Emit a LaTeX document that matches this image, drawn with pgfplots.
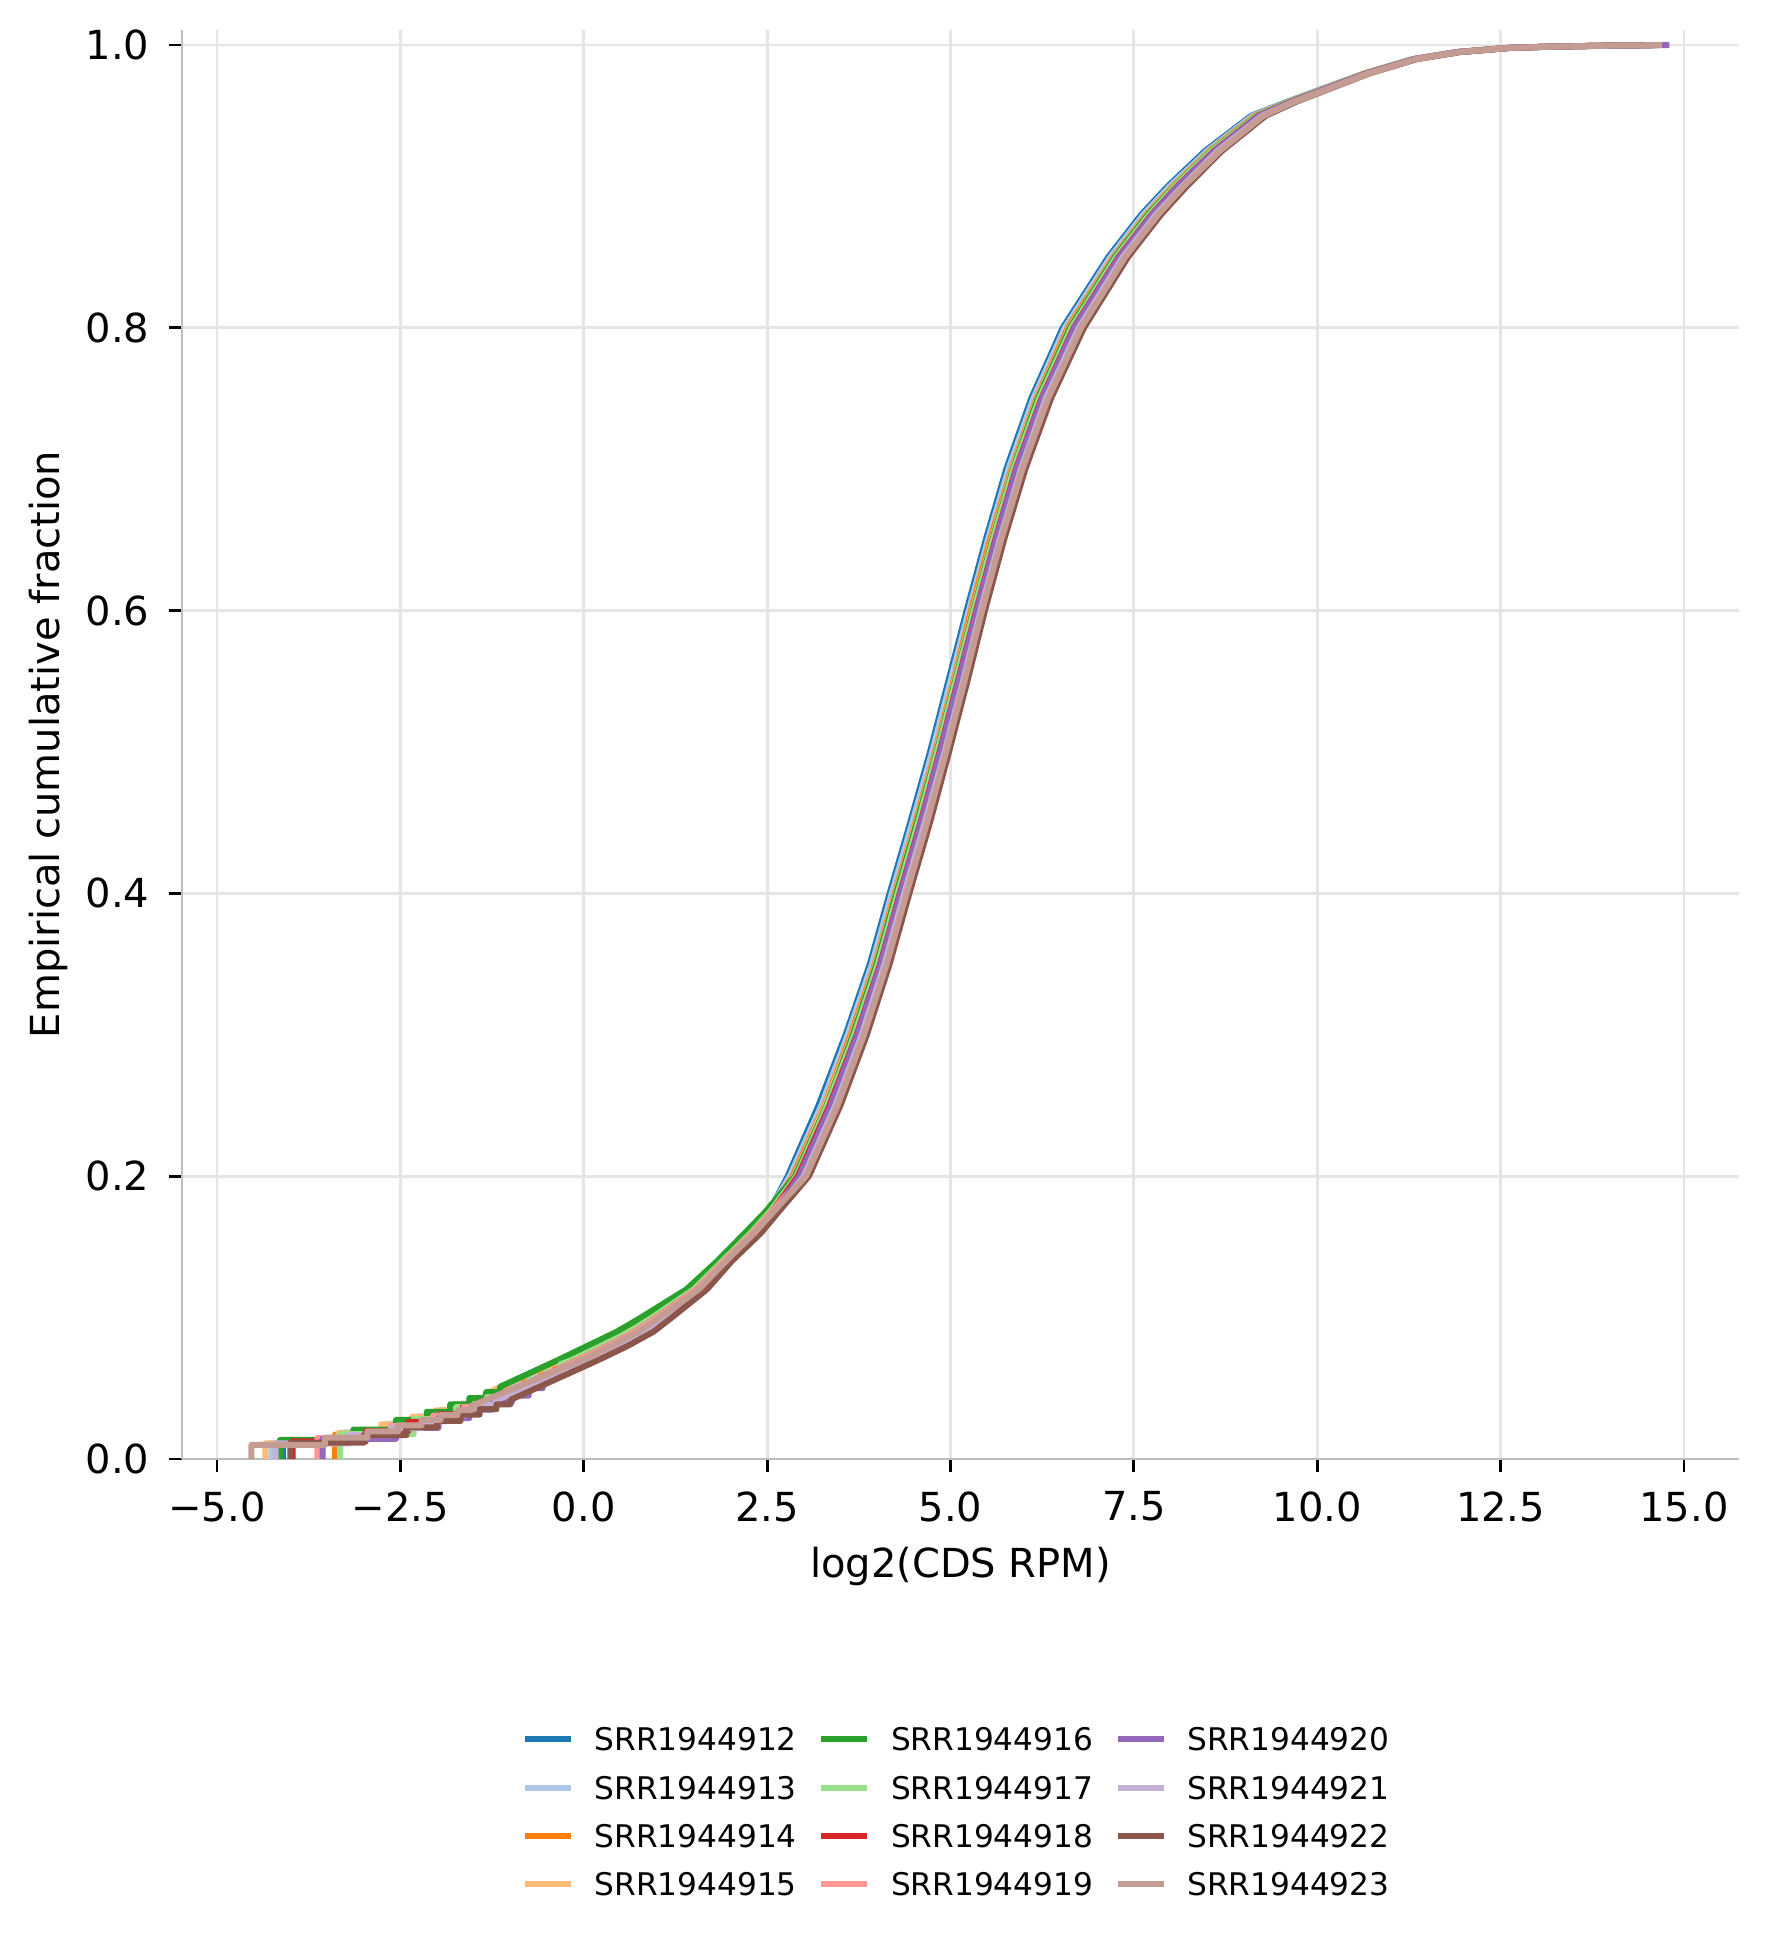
\documentclass[border=0pt]{standalone}
\usepackage{fontspec}
\setmainfont{DejaVu Sans}
\usepackage{pgfplots}
\usepackage{pgfplotstable}
\pgfplotsset{compat=1.18}

\definecolor{c12}{HTML}{1F77B4}
\definecolor{c13}{HTML}{AEC7E8}
\definecolor{c14}{HTML}{FF7F0E}
\definecolor{c15}{HTML}{FFBB78}
\definecolor{c16}{HTML}{2CA02C}
\definecolor{c17}{HTML}{98DF8A}
\definecolor{c18}{HTML}{D62728}
\definecolor{c19}{HTML}{FF9896}
\definecolor{c20}{HTML}{9467BD}
\definecolor{c21}{HTML}{C5B0D5}
\definecolor{c22}{HTML}{8C564B}
\definecolor{c23}{HTML}{C49C94}
\definecolor{gridc}{HTML}{E5E5E5}
\definecolor{spinec}{HTML}{BEBEBE}

% ECDF above the low-count staircase: log2(CDS RPM) per sample at common fractions
\pgfplotstableread{
y     s12   s13   s14   s15   s16   s17   s18   s19   s20   s21   s22   s23
0.07  -0.21 -0.24 -0.19 -0.30 -0.35 -0.16 -0.08 -0.08 0.09  0.06  0.20  -0.02
0.08  0.19  0.16  0.22  0.11  0.05  0.24  0.33  0.33  0.49  0.46  0.60  0.38
0.09  0.58  0.55  0.60  0.50  0.45  0.63  0.70  0.70  0.85  0.83  0.95  0.75
0.10  0.89  0.86  0.91  0.82  0.78  0.93  0.99  0.99  1.12  1.10  1.20  1.03
0.12  1.47  1.46  1.48  1.43  1.40  1.50  1.54  1.54  1.62  1.61  1.68  1.57
0.14  1.87  1.86  1.88  1.84  1.82  1.89  1.92  1.92  1.98  1.97  2.02  1.94
0.16  2.26  2.24  2.27  2.22  2.20  2.28  2.31  2.31  2.38  2.37  2.42  2.33
0.175 2.53  2.52  2.53  2.50  2.48  2.54  2.57  2.57  2.62  2.62  2.66  2.59
0.20  2.78  2.81  2.85  2.87  2.88  2.90  2.92  2.97  2.94  3.00  3.07  3.03
0.25  3.20  3.24  3.28  3.29  3.31  3.32  3.35  3.40  3.37  3.43  3.50  3.46
0.30  3.57  3.60  3.64  3.66  3.67  3.69  3.72  3.76  3.73  3.79  3.86  3.82
0.35  3.90  3.93  3.97  3.98  3.99  4.01  4.04  4.08  4.05  4.10  4.17  4.13
0.40  4.17  4.20  4.24  4.25  4.26  4.28  4.31  4.35  4.32  4.37  4.44  4.40
0.45  4.45  4.48  4.52  4.53  4.54  4.56  4.59  4.63  4.60  4.65  4.72  4.68
0.50  4.72  4.75  4.79  4.80  4.81  4.82  4.85  4.89  4.86  4.92  4.98  4.94
0.55  4.97  5.00  5.04  5.05  5.06  5.07  5.10  5.14  5.11  5.17  5.23  5.19
0.60  5.22  5.25  5.28  5.30  5.31  5.32  5.35  5.38  5.36  5.41  5.47  5.43
0.65  5.48  5.51  5.54  5.56  5.57  5.58  5.61  5.64  5.62  5.67  5.73  5.69
0.70  5.76  5.79  5.83  5.84  5.85  5.86  5.89  5.93  5.90  5.96  6.02  5.98
0.75  6.10  6.13  6.17  6.18  6.19  6.21  6.24  6.28  6.25  6.30  6.37  6.33
0.80  6.53  6.56  6.60  6.62  6.63  6.65  6.68  6.72  6.69  6.75  6.82  6.78
0.85  7.15  7.18  7.22  7.23  7.24  7.26  7.29  7.33  7.30  7.35  7.42  7.38
0.88  7.60  7.63  7.67  7.68  7.69  7.71  7.74  7.78  7.75  7.80  7.87  7.83
0.90  7.96  7.99  8.03  8.04  8.05  8.06  8.09  8.13  8.10  8.16  8.22  8.18
0.925 8.47  8.50  8.53  8.54  8.55  8.56  8.59  8.62  8.60  8.64  8.70  8.67
0.95  9.10  9.12  9.15  9.16  9.17  9.18  9.20  9.23  9.21  9.25  9.30  9.27
0.96  9.60  9.61  9.63  9.64  9.64  9.65  9.66  9.68  9.67  9.69  9.72  9.70
0.97  10.12 10.13 10.15 10.15 10.16 10.16 10.17 10.19 10.18 10.20 10.22 10.21
0.98  10.65 10.66 10.67 10.67 10.67 10.68 10.68 10.70 10.69 10.70 10.72 10.71
0.99  11.30 11.31 11.32 11.32 11.32 11.32 11.33 11.34 11.33 11.35 11.36 11.35
0.995 11.90 11.90 11.91 11.92 11.92 11.92 11.92 11.93 11.93 11.94 11.95 11.94
0.998 12.60 12.61 12.61 12.62 12.62 12.62 12.63 12.63 12.63 12.64 12.65 12.64
0.999 13.28 13.30 13.25 13.32 13.30 13.27 13.30 13.33 13.35 13.30 13.32 13.34
1.000 14.60 14.55 14.60 14.50 14.65 14.60 14.60 14.55 14.80 14.60 14.65 14.70
}\ecdf

% low-count staircases (1..8 reads), last row joins the table above
\pgfplotstableread[row sep=\\]{x y\\
-4.10 0\\ -4.10 0.0122\\ -3.10 0.0122\\ -3.10 0.0199\\ -2.52 0.0199\\ -2.52 0.0263\\
-2.10 0.0263\\ -2.10 0.0319\\ -1.78 0.0319\\ -1.78 0.0370\\ -1.52 0.0370\\ -1.52 0.0413\\
-1.29 0.0413\\ -1.29 0.0453\\ -1.10 0.0453\\ -1.10 0.0489\\ -0.21 0.07\\
}\stpA
\pgfplotstableread[row sep=\\]{x y\\
-4.26 0\\ -4.26 0.0114\\ -3.26 0.0114\\ -3.26 0.0188\\ -2.68 0.0188\\ -2.68 0.0248\\
-2.26 0.0248\\ -2.26 0.0301\\ -1.94 0.0301\\ -1.94 0.0348\\ -1.68 0.0348\\ -1.68 0.0391\\
-1.45 0.0391\\ -1.45 0.0429\\ -1.26 0.0429\\ -1.26 0.0465\\ -0.24 0.07\\
}\stpB
\pgfplotstableread[row sep=\\]{x y\\
-3.39 0\\ -3.39 0.0173\\ -2.39 0.0173\\ -2.39 0.0276\\ -1.81 0.0276\\ -1.81 0.0360\\
-1.39 0.0360\\ -1.39 0.0431\\ -1.07 0.0431\\ -1.07 0.0490\\ -0.81 0.0490\\ -0.81 0.0549\\
-0.58 0.0549\\ -0.58 0.0602\\ -0.39 0.0602\\ -0.39 0.0655\\ -0.19 0.07\\
}\stpC
\pgfplotstableread[row sep=\\]{x y\\
-4.34 0\\ -4.34 0.0110\\ -3.34 0.0110\\ -3.34 0.0185\\ -2.76 0.0185\\ -2.76 0.0245\\
-2.34 0.0245\\ -2.34 0.0298\\ -2.02 0.0298\\ -2.02 0.0344\\ -1.76 0.0344\\ -1.76 0.0387\\
-1.53 0.0387\\ -1.53 0.0426\\ -1.34 0.0426\\ -1.34 0.0462\\ -0.30 0.07\\
}\stpD
\pgfplotstableread[row sep=\\]{x y\\
-4.14 0\\ -4.14 0.0135\\ -3.14 0.0135\\ -3.14 0.0208\\ -2.56 0.0208\\ -2.56 0.0276\\
-2.14 0.0276\\ -2.14 0.0334\\ -1.82 0.0334\\ -1.82 0.0386\\ -1.56 0.0386\\ -1.56 0.0431\\
-1.33 0.0431\\ -1.33 0.0473\\ -1.14 0.0473\\ -1.14 0.0511\\ -0.35 0.07\\
}\stpE
\pgfplotstableread[row sep=\\]{x y\\
-3.32 0\\ -3.32 0.0176\\ -2.32 0.0176\\ -2.32 0.0282\\ -1.74 0.0282\\ -1.74 0.0367\\
-1.32 0.0367\\ -1.32 0.0437\\ -1.00 0.0437\\ -1.00 0.0496\\ -0.74 0.0496\\ -0.74 0.0560\\
-0.51 0.0560\\ -0.51 0.0613\\ -0.32 0.0613\\ -0.32 0.0670\\ -0.16 0.07\\
}\stpF
\pgfplotstableread[row sep=\\]{x y\\
-3.97 0\\ -3.97 0.0125\\ -2.97 0.0125\\ -2.97 0.0198\\ -2.39 0.0198\\ -2.39 0.0263\\
-1.97 0.0263\\ -1.97 0.0316\\ -1.65 0.0316\\ -1.65 0.0366\\ -1.39 0.0366\\ -1.39 0.0410\\
-1.16 0.0410\\ -1.16 0.0450\\ -0.97 0.0450\\ -0.97 0.0485\\ -0.08 0.07\\
}\stpG
\pgfplotstableread[row sep=\\]{x y\\
-3.63 0\\ -3.63 0.0148\\ -2.63 0.0148\\ -2.63 0.0235\\ -2.05 0.0235\\ -2.05 0.0306\\
-1.63 0.0306\\ -1.63 0.0369\\ -1.31 0.0369\\ -1.31 0.0424\\ -1.05 0.0424\\ -1.05 0.0470\\
-0.82 0.0470\\ -0.82 0.0520\\ -0.63 0.0520\\ -0.63 0.0567\\ -0.08 0.07\\
}\stpH
\pgfplotstableread[row sep=\\]{x y\\
-3.56 0\\ -3.56 0.0143\\ -2.56 0.0143\\ -2.56 0.0221\\ -1.98 0.0221\\ -1.98 0.0289\\
-1.56 0.0289\\ -1.56 0.0350\\ -1.24 0.0350\\ -1.24 0.0402\\ -0.98 0.0402\\ -0.98 0.0448\\
-0.75 0.0448\\ -0.75 0.0501\\ -0.56 0.0501\\ -0.56 0.0548\\ 0.09 0.07\\
}\stpI
\pgfplotstableread[row sep=\\]{x y\\
-4.20 0\\ -4.20 0.0111\\ -3.20 0.0111\\ -3.20 0.0168\\ -2.62 0.0168\\ -2.62 0.0219\\
-2.20 0.0219\\ -2.20 0.0266\\ -1.88 0.0266\\ -1.88 0.0309\\ -1.62 0.0309\\ -1.62 0.0347\\
-1.39 0.0347\\ -1.39 0.0382\\ -1.20 0.0382\\ -1.20 0.0414\\ 0.06 0.07\\
}\stpJ
\pgfplotstableread[row sep=\\]{x y\\
-4.00 0\\ -4.00 0.0115\\ -3.00 0.0115\\ -3.00 0.0169\\ -2.42 0.0169\\ -2.42 0.0223\\
-2.00 0.0223\\ -2.00 0.0269\\ -1.68 0.0269\\ -1.68 0.0314\\ -1.42 0.0314\\ -1.42 0.0352\\
-1.19 0.0352\\ -1.19 0.0387\\ -1.00 0.0387\\ -1.00 0.0418\\ 0.20 0.07\\
}\stpK
\pgfplotstableread[row sep=\\]{x y\\
-4.53 0\\ -4.53 0.0100\\ -3.53 0.0100\\ -3.53 0.0151\\ -2.95 0.0151\\ -2.95 0.0195\\
-2.53 0.0195\\ -2.53 0.0238\\ -2.21 0.0238\\ -2.21 0.0277\\ -1.95 0.0277\\ -1.95 0.0311\\
-1.72 0.0311\\ -1.72 0.0345\\ -1.53 0.0345\\ -1.53 0.0375\\ -0.02 0.07\\
}\stpL

\begin{document}
\begin{tikzpicture}
\path[use as bounding box] (0,0) rectangle (441.75pt,485.5pt);
\begin{axis}[
    at={(45.5pt,120.75pt)}, anchor=south west,
    scale only axis,
    width=389.25pt, height=357.25pt,
    xmin=-5.477, xmax=15.75,
    ymin=0, ymax=1.0106,
    axis x line*=bottom, axis y line*=left,
    axis line style={-, spinec, line width=0.7pt},
    tick align=outside,
    major tick length=3.3pt,
    tick style={black, line width=0.7pt},
    xtick={-5,-2.5,0,2.5,5,7.5,10,12.5,15},
    xticklabels={−5.0,−2.5,0.0,2.5,5.0,7.5,10.0,12.5,15.0},
    ytick={0,0.2,0.4,0.6,0.8,1},
    yticklabels={0.0,0.2,0.4,0.6,0.8,1.0},
    ticklabel style={font=\fontsize{10}{12}\selectfont, inner sep=0pt},
    xticklabel style={anchor=north, yshift=-4.6pt},
    yticklabel style={anchor=east, xshift=-4.7pt},
    grid=major,
    major grid style={gridc, line width=0.7pt},
    xlabel={log2(CDS RPM)},
    ylabel={Empirical cumulative fraction},
    label style={font=\fontsize{10}{12}\selectfont},
    xlabel style={at={(axis description cs:0.5,-0.075)}, anchor=center},
    ylabel style={at={(axis description cs:-0.0855,0.5)}, anchor=center},
    every axis plot/.append style={line width=1.5pt, line join=round, no markers},
    legend columns=3,
    legend cell align=left,
    legend image code/.code={\draw[#1, line width=1.5pt] (0pt,0pt) -- (11.5pt,0pt);},
    legend style={
        at={(axis description cs:0.497,-0.182)}, anchor=north,
        draw=none, fill=none,
        font=\fontsize{7.8}{9.5}\selectfont,
        nodes={inner sep=0pt, text height=5.7pt, text depth=0pt},
        row sep=6.4pt,
        /tikz/every odd column/.append style={column sep=5.15pt},
        /tikz/every even column/.append style={column sep=5.4pt},
    },
]
\addplot[c12, forget plot] table {\stpA};
\addplot[c12, forget plot] table[x=s12, y=y] {\ecdf};
\addplot[c13, forget plot] table {\stpB};
\addplot[c13, forget plot] table[x=s13, y=y] {\ecdf};
\addplot[c14, forget plot] table {\stpC};
\addplot[c14, forget plot] table[x=s14, y=y] {\ecdf};
\addplot[c15, forget plot] table {\stpD};
\addplot[c15, forget plot] table[x=s15, y=y] {\ecdf};
\addplot[c16, forget plot] table {\stpE};
\addplot[c16, forget plot] table[x=s16, y=y] {\ecdf};
\addplot[c17, forget plot] table {\stpF};
\addplot[c17, forget plot] table[x=s17, y=y] {\ecdf};
\addplot[c18, forget plot] table {\stpG};
\addplot[c18, forget plot] table[x=s18, y=y] {\ecdf};
\addplot[c19, forget plot] table {\stpH};
\addplot[c19, forget plot] table[x=s19, y=y] {\ecdf};
\addplot[c20, forget plot] table {\stpI};
\addplot[c20, forget plot] table[x=s20, y=y] {\ecdf};
\addplot[c21, forget plot] table {\stpJ};
\addplot[c21, forget plot] table[x=s21, y=y] {\ecdf};
\addplot[c22, forget plot] table {\stpK};
\addplot[c22, forget plot] table[x=s22, y=y] {\ecdf};
\addplot[c23, forget plot] table {\stpL};
\addplot[c23, forget plot] table[x=s23, y=y] {\ecdf};

% legend filled column by column, as in the original
\addlegendimage{c12}\addlegendentry{SRR1944912}
\addlegendimage{c16}\addlegendentry{SRR1944916}
\addlegendimage{c20}\addlegendentry{SRR1944920}
\addlegendimage{c13}\addlegendentry{SRR1944913}
\addlegendimage{c17}\addlegendentry{SRR1944917}
\addlegendimage{c21}\addlegendentry{SRR1944921}
\addlegendimage{c14}\addlegendentry{SRR1944914}
\addlegendimage{c18}\addlegendentry{SRR1944918}
\addlegendimage{c22}\addlegendentry{SRR1944922}
\addlegendimage{c15}\addlegendentry{SRR1944915}
\addlegendimage{c19}\addlegendentry{SRR1944919}
\addlegendimage{c23}\addlegendentry{SRR1944923}
\end{axis}
\end{tikzpicture}
\end{document}
